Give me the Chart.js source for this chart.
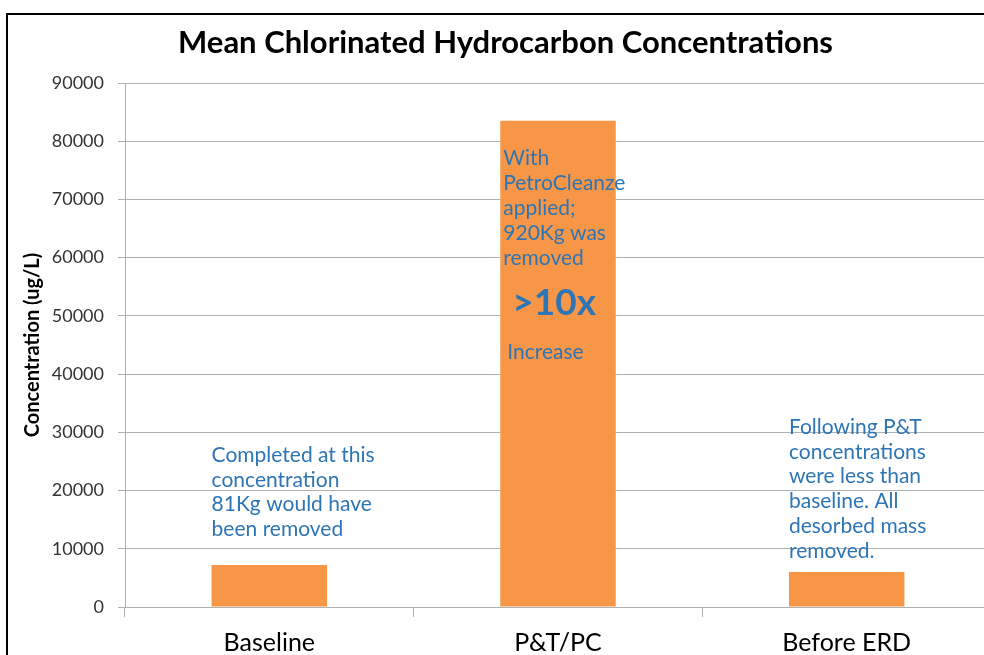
<!DOCTYPE html>
<html>
<head>
<meta charset="utf-8">
<script src="https://cdn.jsdelivr.net/npm/chart.js@4.4.0/dist/chart.umd.min.js"></script>
<style>
html, body { margin: 0; padding: 0; overflow: hidden; background: #fff; }
#frame { position: absolute; left: 6px; top: 13px; width: 1100px; height: 1000px;
         border-left: 2px solid #000; border-top: 2px solid #000; }
#chart { position: absolute; left: 0; top: 0; }
</style>
</head>
<body>
<div id="frame"></div>
<canvas id="chart" width="1010" height="700"></canvas>
<script>
const categories = ['Baseline', 'P&T/PC', 'Before ERD'];
const concentrations = [7200, 83500, 6000];
const yMax = 90000;
const yStep = 10000;

// annotation text, anchored to a bar and a value on the y axis
const baselineNote = ['Completed at this', 'concentration', '81Kg would have', 'been removed'];
const pcNote = ['With', 'PetroCleanze', 'applied;', '920Kg was', 'removed'];
const erdNote = ['Following P&T', 'concentrations', 'were less than', 'baseline. All', 'desorbed mass', 'removed.'];
const noteTops = [26100, 77000, 30900];
const bigNote = '>10x';
const bigNoteTop = 52200;
const increaseNote = 'Increase';
const increaseTop = 43800;

const noteColor = '#2E75B6';

const notesPlugin = {
    id: 'notes',
    afterDatasetsDraw(chart) {
        const ctx = chart.ctx;
        const y = chart.scales.y;
        const bars = chart.getDatasetMeta(0).data;
        const left = i => bars[i].x - bars[i].width / 2;
        ctx.save();
        ctx.fillStyle = noteColor;
        ctx.textAlign = 'left';
        ctx.textBaseline = 'middle';
        ctx.font = '21px Lato';
        [baselineNote, pcNote, erdNote].forEach((lines, i) => {
            const top = y.getPixelForValue(noteTops[i]);
            const dx = i === 1 ? 3 : 0;
            lines.forEach((t, k) => ctx.fillText(t, left(i) + dx, top + k * 24.8));
        });
        ctx.fillText(increaseNote, left(1) + 7, y.getPixelForValue(increaseTop));
        ctx.font = 'bold 37px Lato';
        ctx.fillText(bigNote, left(1) + 12, y.getPixelForValue(bigNoteTop));
        ctx.restore();
    }
};

new Chart(document.getElementById('chart'), {
    type: 'bar',
    data: {
        labels: categories,
        datasets: [{
            label: 'Concentration',
            data: concentrations,
            backgroundColor: '#F79646',
            borderWidth: 0,
            barPercentage: 0.4,
            categoryPercentage: 1
        }]
    },
    options: {
        responsive: false,
        animation: false,
        devicePixelRatio: 1,
        layout: { padding: { left: 20, right: 19, top: 0, bottom: 0 } },
        plugins: {
            legend: { display: false },
            tooltip: { enabled: false },
            title: {
                display: true,
                text: 'Mean Chlorinated Hydrocarbon Concentrations',
                color: '#000',
                font: { family: 'Lato', size: 31, weight: 'bold', lineHeight: 1.2 },
                padding: { top: 24.4, bottom: 21.4 }
            }
        },
        scales: {
            x: {
                grid: {
                    display: true,
                    offset: true,
                    drawOnChartArea: false,
                    tickLength: 10,
                    color: '#B0B0B0'
                },
                border: { color: '#B0B0B0', width: 1 },
                ticks: {
                    color: '#000',
                    padding: 11,
                    font: { family: 'Lato', size: 25 }
                },
                afterFit(scale) { scale.height = 93; }
            },
            y: {
                min: 0,
                max: yMax,
                ticks: {
                    stepSize: yStep,
                    color: '#333',
                    padding: 14,
                    font: { family: 'Lato', size: 18 },
                    callback: v => String(v)
                },
                grid: { color: '#B0B0B0', tickLength: 7 },
                border: { color: '#B0B0B0', width: 1 },
                title: {
                    display: true,
                    text: 'Concentration (ug/L)',
                    color: '#000',
                    font: { family: 'Lato', size: 20, weight: 'bold', lineHeight: 1.2 },
                    padding: { top: 1, bottom: 0 }
                },
                afterFit(scale) { scale.width = 105; }
            }
        }
    },
    plugins: [notesPlugin]
});
</script>
</body>
</html>
